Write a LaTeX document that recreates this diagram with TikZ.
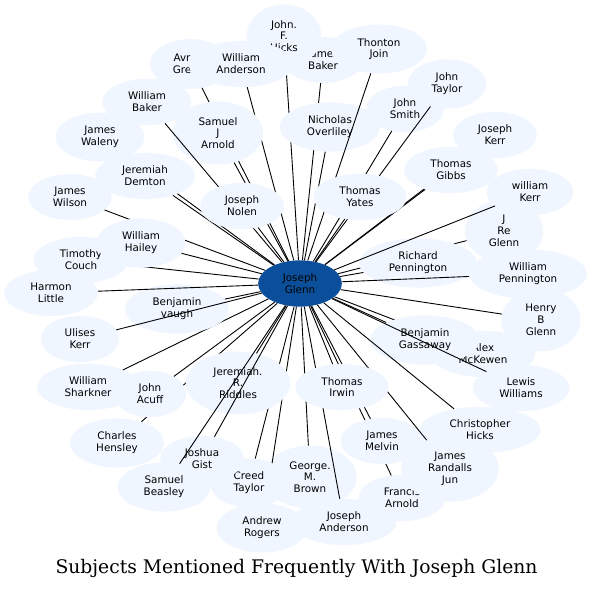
\documentclass[tikz,border=0pt]{standalone}
\usepackage{fontspec}
\newfontfamily\nodefont{DejaVu Sans}
\newfontfamily\titlefont{DejaVu Serif}
\usetikzlibrary{shapes.geometric}
\definecolor{pfill}{HTML}{F0F6FF}
\definecolor{cfill}{HTML}{0B4F9B}
\tikzset{
  pn/.style={ellipse, fill=pfill, inner xsep=12.5pt, inner ysep=6.5pt, align=center,
    font=\nodefont\fontsize{10.4}{11.8}\selectfont, text=black},
  hub/.style={pn, fill=cfill},
  link/.style={line width=0.9pt, black},
  plain/.style={inner sep=0pt, align=center, font=\nodefont\fontsize{10.4}{11.8}\selectfont, text=black}
}
\begin{document}
\begin{tikzpicture}[x=1bp,y=-1bp]
\useasboundingbox (0,0) rectangle (594,590);
\fill[white] (0,0) rectangle (594,590);
\node[hub] (hub) at (300,283.5) {Joseph\\Glenn};
\node[pn] (jkerr) at (495,135) {Joseph\\Kerr}; \draw[link] (hub) -- (jkerr);
\node[pn] (gibbs) at (451,170) {Thomas\\Gibbs}; \draw[link] (hub) -- (gibbs);
\node[pn] (waleny) at (100,137) {James\\Waleny}; \draw[link] (hub) -- (waleny);
\node[pn] (demton) at (145,176) {Jeremiah\\Demton}; \draw[link] (hub) -- (demton);
\node[pn] (jbaker) at (323,60) {James\\Baker}; \draw[link] (hub) -- (jbaker);
\node[pn] (hicks) at (284,36) {John.\\F.\\Hicks}; \draw[link] (hub) -- (hicks);
\node[pn, inner sep=0pt, minimum width=80pt, minimum height=50pt] (avr) at (190,64) {};
\node[plain] (avrtext) at (182,64) {Avr\\Gre}; \draw[link] (hub) -- (avr);
\node[pn] (wanderson) at (241,64) {William\\Anderson}; \draw[link] (hub) -- (wanderson);
\node[pn] (sarnold) at (218,133) {Samuel\\J\\Arnold}; \draw[link] (hub) -- (sarnold);
\node[pn] (wbaker) at (147,102) {William\\Baker}; \draw[link] (hub) -- (wbaker);
\node[pn] (nolen) at (242,206) {Joseph\\Nolen}; \draw[link] (hub) -- (nolen);
\node[pn] (overliley) at (330,127) {Nicholas\\Overliley}; \draw[link] (hub) -- (overliley);
\node[pn] (thonton) at (379,49) {Thonton\\Join}; \draw[link] (hub) -- (thonton);
\node[pn] (smith) at (405,109) {John\\Smith}; \draw[link] (hub) -- (smith);
\node[pn] (taylor) at (447,84) {John\\Taylor}; \draw[link] (hub) -- (taylor);
\node[pn] (yates) at (360,197) {Thomas\\Yates}; \draw[link] (hub) -- (yates);
\node[pn] (jre) at (504,231) {J\\Re\\Glenn}; \draw[link] (hub) -- (jre);
\node[pn] (richard) at (418,263) {Richard\\Pennington}; \draw[link] (hub) -- (richard);
\node[pn] (wkerr) at (530,192) {william\\Kerr}; \draw[link] (hub) -- (wkerr);
\node[pn] (wpenn) at (528,274) {William\\Pennington}; \draw[link] (hub) -- (wpenn);
\node[pn] (henry) at (541,320) {Henry\\B\\Glenn}; \draw[link] (hub) -- (henry);
\node[pn] (alex) at (483,354) {Alex\\McKewen}; \draw[link] (hub) -- (alex);
\node[pn] (gassaway) at (425,340) {Benjamin\\Gassaway}; \draw[link] (hub) -- (gassaway);
\node[pn] (lewis) at (521,388) {Lewis\\Williams}; \draw[link] (hub) -- (lewis);
\node[pn] (chicks) at (480,430) {Christopher\\Hicks}; \draw[link] (hub) -- (chicks);
\node[pn] (francis) at (402,498) {Francis\\Arnold}; \draw[link] (hub) -- (francis);
\node[pn] (melvin) at (382,441) {James\\Melvin}; \draw[link] (hub) -- (melvin);
\node[pn] (randalls) at (450,469) {James\\Randalls\\Jun}; \draw[link] (hub) -- (randalls);
\node[pn] (brown) at (310,477) {George.\\M.\\Brown}; \draw[link] (hub) -- (brown);
\node[pn] (janderson) at (344,522) {Joseph\\Anderson}; \draw[link] (hub) -- (janderson);
\node[pn] (irwin) at (342,387) {Thomas\\Irwin}; \draw[link] (hub) -- (irwin);
\node[pn] (rogers) at (262,528) {Andrew\\Rogers}; \draw[link] (hub) -- (rogers);
\node[pn] (creed) at (249,483) {Creed\\Taylor}; \draw[link] (hub) -- (creed);
\node[pn] (hensley) at (117,443) {Charles\\Hensley}; \draw[link] (hub) -- (hensley);
\node[pn] (riddles) at (238,383) {Jeremiah.\\R.\\Riddles}; \draw[link] (hub) -- (riddles);
\node[pn] (gist) at (202,459) {Joshua\\Gist}; \draw[link] (hub) -- (gist);
\node[pn] (beasley) at (164,487) {Samuel\\Beasley}; \draw[link] (hub) -- (beasley);
\node[pn] (acuff) at (150,394) {John\\Acuff}; \draw[link] (hub) -- (acuff);
\node[pn] (sharkner) at (88,387) {William\\Sharkner}; \draw[link] (hub) -- (sharkner);
\node[pn] (vaugh) at (177,309) {Benjamin\\vaugh}; \draw[link] (hub) -- (vaugh);
\node[pn] (ulises) at (80,339) {Ulises\\Kerr}; \draw[link] (hub) -- (ulises);
\node[pn] (harmon) at (51,293) {Harmon\\Little}; \draw[link] (hub) -- (harmon);
\node[pn] (couch) at (81,260) {Timothy\\Couch}; \draw[link] (hub) -- (couch);
\node[pn] (wilson) at (70,197) {James\\Wilson}; \draw[link] (hub) -- (wilson);
\node[pn] (hailey) at (141,243) {William\\Hailey}; \draw[link] (hub) -- (hailey);
\node[font=\titlefont\fontsize{18.8}{22}\selectfont, inner sep=0pt] (title) at (296.5,568.5) {Subjects Mentioned Frequently With Joseph Glenn};
\end{tikzpicture}
\end{document}
